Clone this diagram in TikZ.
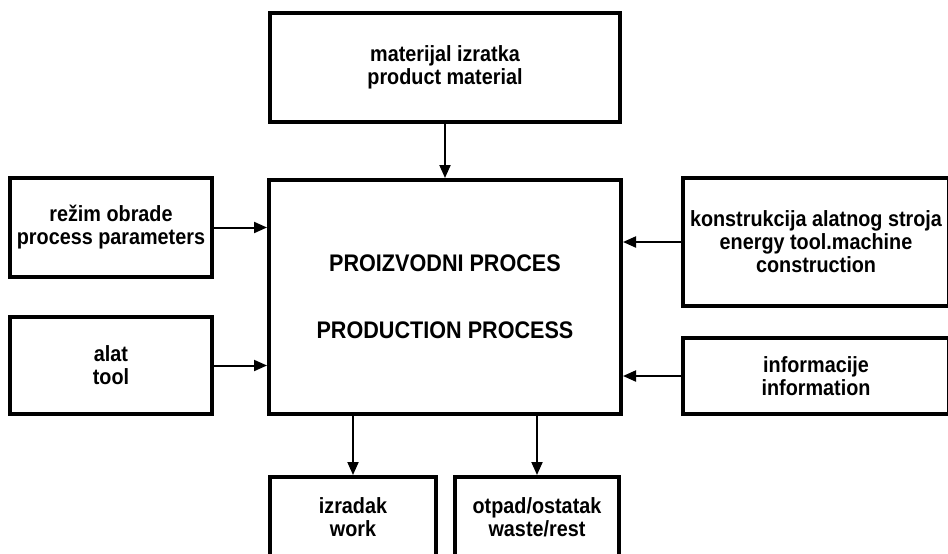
\documentclass[tikz,border=0pt]{standalone}
\usepackage{fontspec}
\setmainfont[FakeStretch=0.9]{Liberation Sans}
\usepackage{tikz}
\usetikzlibrary{positioning, arrows.meta}

\begin{document}
\begin{tikzpicture}[x=1pt, y=-1pt, thick,
    blok/.style = {draw, line width=4pt, inner sep=0pt, align=center,
                   font=\fontsize{22}{23}\selectfont\bfseries},
    tok/.style = {line width=2pt, -{Triangle[length=13pt, width=11pt]}}]
  \clip (0,0) rectangle (948,554);
  \fill[white] (0,0) rectangle (948,554);
  % glavni blok
  \node[blok, minimum width=352pt, minimum height=234pt,
        font=\fontsize{24}{27}\selectfont\bfseries] (proces) at (445,297)
        {PROIZVODNI PROCES\\[40pt]PRODUCTION PROCESS};
  % ulazi
  \node[blok, minimum width=350pt, minimum height=109pt] (materijal) at (445,67.5)
        {materijal izratka\\product material};
  \node[blok, minimum width=202pt, minimum height=99pt] (rezim) at (111,227.5)
        {režim obrade\\process parameters};
  \node[blok, minimum width=202pt, minimum height=97pt] (alat) at (111,365.5)
        {alat\\tool};
  \node[blok, minimum width=266pt, minimum height=128pt] (stroj) at (816,242)
        {konstrukcija alatnog stroja\\energy tool.machine\\construction};
  \node[blok, minimum width=266pt, minimum height=76pt] (info) at (816,376)
        {informacije\\information};
  % izlazi
  \node[blok, minimum width=166pt, minimum height=80pt] (izradak) at (353,517)
        {izradak\\work};
  \node[blok, minimum width=164pt, minimum height=80pt] (otpad) at (537,517)
        {otpad/ostatak\\waste/rest};
  % veze
  \draw[tok] (materijal) -- (proces);
  \draw[tok] (rezim) -- (rezim -| proces.west);
  \draw[tok] (alat) -- (alat -| proces.west);
  \draw[tok] (stroj) -- (stroj -| proces.east);
  \draw[tok] (info) -- (info -| proces.east);
  \draw[tok] (izradak |- proces.south) -- (izradak);
  \draw[tok] (otpad |- proces.south) -- (otpad);
\end{tikzpicture}
\end{document}
